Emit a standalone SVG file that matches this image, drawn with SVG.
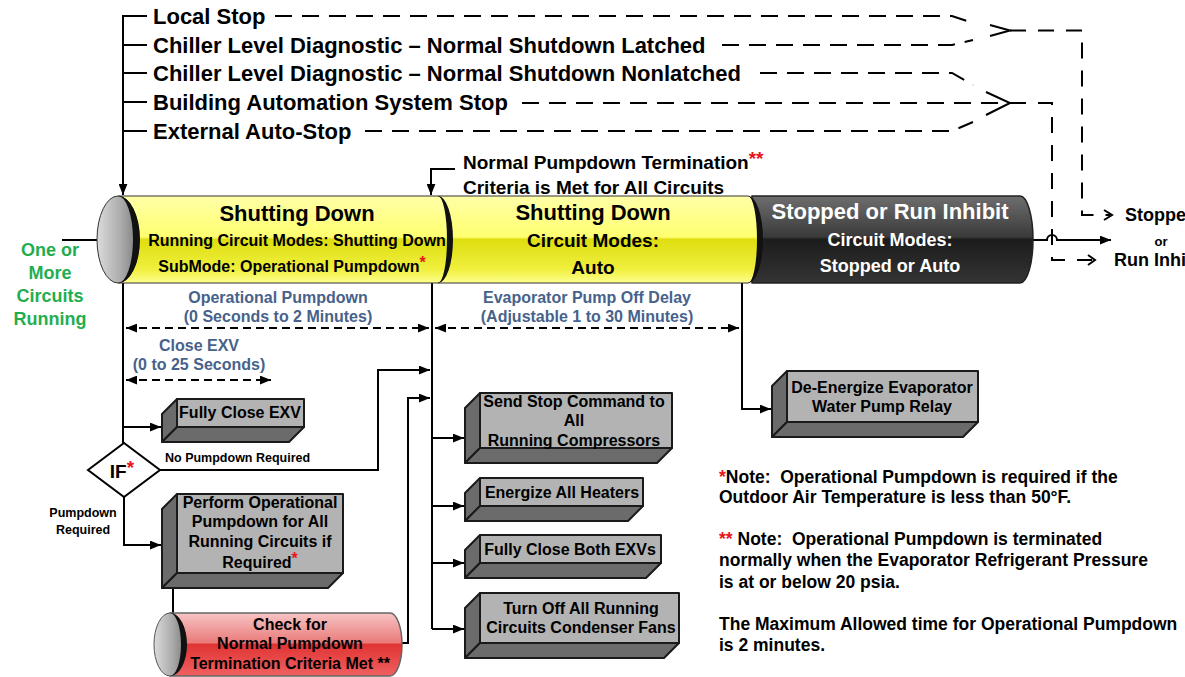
<svg xmlns="http://www.w3.org/2000/svg" width="1185" height="677" viewBox="0 0 1185 677">
<defs>
<linearGradient id="gYellow" x1="0" y1="0" x2="0" y2="1">
<stop offset="0" stop-color="#ffffa8"/>
<stop offset="0.47" stop-color="#ffff70"/>
<stop offset="0.5" stop-color="#dede10"/>
<stop offset="0.85" stop-color="#f0f040"/>
<stop offset="1" stop-color="#ffff90"/>
</linearGradient>
<linearGradient id="gDark" x1="0" y1="0" x2="0" y2="1">
<stop offset="0" stop-color="#6e6e6e"/>
<stop offset="0.47" stop-color="#3a3a3a"/>
<stop offset="0.5" stop-color="#1c1c1c"/>
<stop offset="1" stop-color="#343434"/>
</linearGradient>
<linearGradient id="gRed" x1="0" y1="0" x2="0" y2="1">
<stop offset="0" stop-color="#f7c4c4"/>
<stop offset="0.47" stop-color="#ea7a7a"/>
<stop offset="0.5" stop-color="#e03434"/>
<stop offset="1" stop-color="#f06060"/>
</linearGradient>
<linearGradient id="gFace" x1="0" y1="0" x2="1" y2="0">
<stop offset="0" stop-color="#dcdcdc"/>
<stop offset="0.6" stop-color="#a8a8a8"/>
<stop offset="1" stop-color="#7a7a7a"/>
</linearGradient>
<marker id="arr" viewBox="0 0 10 8" refX="10" refY="4" markerWidth="11" markerHeight="9" markerUnits="userSpaceOnUse" orient="auto-start-reverse">
<path d="M0,0 L10,4 L0,8 z" fill="#000"/>
</marker>
</defs>
<style>
text { font-family: "Liberation Sans", Arial, sans-serif; font-weight: bold; dominant-baseline: central; fill: #000; }
.c { text-anchor: middle; }
.f22 { font-size: 22px; }
.f19 { font-size: 19px; }
.f18 { font-size: 18px; }
.f175 { font-size: 17.5px; }
.f17 { font-size: 17px; }
.f16 { font-size: 16px; }
.f13 { font-size: 12.5px; }
.red { fill: #e8141c; }
.blue { fill: #47628a; }
.green { fill: #1fae4f; }
.white { fill: #ffffff; }
.ln { fill: none; stroke: #000; stroke-width: 2; }
.arrow { marker-end: url(#arr); }
.dash { fill: none; stroke: #000; stroke-width: 2; stroke-dasharray: 17 10; }
.dd { fill: none; stroke: #000; stroke-width: 2; stroke-dasharray: 8 5; marker-start: url(#arr); marker-end: url(#arr); }
.vd { fill: none; stroke: #000; stroke-width: 2; stroke-dasharray: 16 12; }
.front { fill: #b3b3b3; stroke: #1a1a1a; stroke-width: 2; stroke-linejoin: round; }
.side { fill: #6b6b6b; stroke: #1a1a1a; stroke-width: 2; stroke-linejoin: round; }
.edge { fill: #111; }
</style>

<rect x="0" y="0" width="1185" height="677" fill="#ffffff"/>

<g id="connectors">
  <path class="ln arrow" d="M147 16 H123 V195"/>
  <path class="ln" d="M123 45 H147 M123 73 H147 M123 102 H147 M123 131 H147"/>
  <path class="dash" d="M275 16 H952 L973 23"/>
  <path class="dash" d="M722 45 H952 L973 40"/>
  <path class="ln" d="M990 25 L1010 30.5 L990 36"/>
  <path class="vd" d="M1010 30.5 H1082 V215 H1110"/>
  <path class="ln" d="M1104 210 L1112 215 L1104 220"/>
  <path class="dash" d="M760 73 H952 L973 85"/>
  <path class="dash" d="M522 103 H1010"/>
  <path class="dash" d="M365 131 H952 L973 122"/>
  <path class="ln" d="M986 92 L1010 103 L986 115"/>
  <path class="vd" d="M1010 103 H1052 V260 H1092"/>
  <path class="ln" d="M1088 255 L1095 260 L1088 265"/>
  <path class="ln arrow" d="M1033 240 H1047 A5 5 0 0 1 1057 240 H1111"/>
  <path class="ln arrow" d="M455 169 H431 V195"/>
  <path class="ln arrow" d="M62 240 H116"/>
  <path class="dd" d="M126 328 H429"/>
  <path class="dd" d="M435 328 H739"/>
  <path class="dd" d="M126 380 H271"/>
  <path class="ln" d="M123 283 V443"/>
  <path class="ln arrow" d="M123 427 H161"/>
  <path class="ln arrow" d="M160 470 H378 V370 H430"/>
  <path class="ln arrow" d="M124 497 V545 H161"/>
  <path class="ln" d="M173 588 V613"/>
  <path class="ln arrow" d="M402 643 H408 V398 H430"/>
  <path class="ln" d="M432 283 V629"/>
  <path class="ln arrow" d="M432 438 H464"/>
  <path class="ln arrow" d="M432 506 H464"/>
  <path class="ln arrow" d="M432 563 H464"/>
  <path class="ln arrow" d="M432 629 H464"/>
  <path class="ln arrow" d="M742 283 V409 H771"/>
</g>

<g id="source-labels">
  <text class="f22" x="153" y="16">Local Stop</text>
  <text class="f22" x="153" y="45" xml:space="preserve">Chiller Level Diagnostic – Normal Shutdown Latched</text>
  <text class="f22" x="153" y="73">Chiller Level Diagnostic – Normal Shutdown Nonlatched</text>
  <text class="f22" x="153" y="102">Building Automation System Stop</text>
  <text class="f22" x="153" y="131">External Auto-Stop</text>
</g>

<g id="termination-label">
  <text class="f19" x="463" y="162">Normal Pumpdown Termination<tspan class="red" dy="-4">**</tspan></text>
  <text class="f19" x="463" y="187">Criteria is Met for All Circuits</text>
</g>

<g id="stopped-cylinder">
  <path d="M752 196 H1020 A13 43.5 0 0 1 1020 283 H752 Z" fill="url(#gDark)" stroke="#222" stroke-width="1.5"/>
  <text class="f22 c white" x="890" y="211">Stopped or Run Inhibit</text>
  <text class="f18 c white" x="890" y="240">Circuit Modes:</text>
  <text class="f18 c white" x="890" y="266">Stopped or Auto</text>
</g>

<g id="shutting-down-auto">
  <path d="M438 196 H748 A11 43.5 0 0 1 748 283 H438 Z" fill="url(#gYellow)" stroke="#333" stroke-width="1"/>
  <path class="edge" d="M748 196 A15 43.5 0 0 1 748 283 A9 43.5 0 0 0 748 196 Z"/>
  <text class="f22 c" x="593" y="212">Shutting Down</text>
  <text class="f19 c" x="593" y="240">Circuit Modes:</text>
  <text class="f19 c" x="593" y="267">Auto</text>
</g>

<g id="shutting-down-pumpdown">
  <path d="M118 196 H438 A11 43.5 0 0 1 438 283 H118 Z" fill="url(#gYellow)" stroke="#333" stroke-width="1"/>
  <path class="edge" d="M438 196 A15 43.5 0 0 1 438 283 A9 43.5 0 0 0 438 196 Z"/>
  <ellipse cx="118" cy="239.5" rx="21" ry="43.5" fill="url(#gFace)" stroke="#333" stroke-width="1"/>
  <path class="edge" d="M118 196 A22 43.5 0 0 1 118 283 A15 43.5 0 0 0 118 196 Z"/>
  <text class="f22 c" x="297" y="213">Shutting Down</text>
  <text class="f16 c" x="297" y="240">Running Circuit Modes: Shutting Down</text>
  <text class="f16 c" x="292" y="266">SubMode: Operational Pumpdown<tspan class="red" dy="-4">*</tspan></text>
</g>

<g id="start-label">
  <text class="f18 c green" x="50" y="250">One or</text>
  <text class="f18 c green" x="50" y="273">More</text>
  <text class="f18 c green" x="50" y="296">Circuits</text>
  <text class="f18 c green" x="50" y="319">Running</text>
</g>

<g id="output-label">
  <text class="f18 c" x="1161" y="215">Stopped</text>
  <text class="c" style="font-size:13px" x="1161" y="241">or</text>
  <text class="f18 c" x="1161" y="260">Run Inhibit</text>
</g>

<g id="timing-labels">
  <text class="f16 c blue" x="278" y="297">Operational Pumpdown</text>
  <text class="f16 c blue" x="278" y="316">(0 Seconds to 2 Minutes)</text>
  <text class="f16 c blue" x="587" y="297">Evaporator Pump Off Delay</text>
  <text class="f16 c blue" x="587" y="316">(Adjustable 1 to 30 Minutes)</text>
  <text class="f16 c blue" x="199" y="345">Close EXV</text>
  <text class="f16 c blue" x="199" y="364">(0 to 25 Seconds)</text>
</g>

<g id="fully-close-exv">
  <polygon class="side" points="177,399 162,414 162,442 177,427"/>
  <polygon class="side" points="177,427 304,427 289,442 162,442"/>
  <rect class="front" x="177" y="399" width="127" height="28"/>
  <text class="f16 c" x="240" y="412">Fully Close EXV</text>
</g>

<g id="if-decision">
  <polygon points="88,470 124,443 160,470 124,497" fill="#fff" stroke="#000" stroke-width="2"/>
  <text class="f19 c" x="122" y="471">IF<tspan class="red" dy="-4">*</tspan></text>
  <text class="f13" x="165" y="458">No Pumpdown Required</text>
  <text class="f13 c" x="83" y="513">Pumpdown</text>
  <text class="f13 c" x="83" y="530">Required</text>
</g>

<g id="perform-pumpdown">
  <polygon class="side" points="177,494 162,509 162,588 177,573"/>
  <polygon class="side" points="177,573 343,573 328,588 162,588"/>
  <rect class="front" x="177" y="494" width="166" height="79"/>
  <text class="f16 c" x="260" y="502">Perform Operational</text>
  <text class="f16 c" x="260" y="521">Pumpdown for All</text>
  <text class="f16 c" x="260" y="541">Running Circuits if</text>
  <text class="f16 c" x="260" y="562">Required<tspan class="red" dy="-4">*</tspan></text>
</g>

<g id="check-termination">
  <path d="M170 613 H390 A12 31.5 0 0 1 390 676 H170 Z" fill="url(#gRed)" stroke="#666" stroke-width="1.5"/>
  <ellipse cx="170" cy="644.5" rx="16" ry="31.5" fill="url(#gFace)" stroke="#555" stroke-width="1"/>
  <path class="edge" d="M170 613 A17 31.5 0 0 1 170 676 A11 31.5 0 0 0 170 613 Z"/>
  <text class="f16 c" x="290" y="624">Check for</text>
  <text class="f16 c" x="290" y="643">Normal Pumpdown</text>
  <text class="f16 c" x="290" y="663">Termination Criteria Met **</text>
</g>

<g id="send-stop">
  <polygon class="side" points="480,393 465,408 465,463 480,448"/>
  <polygon class="side" points="480,448 672,448 657,463 465,463"/>
  <rect class="front" x="480" y="393" width="192" height="55"/>
  <text class="f16 c" x="574" y="401">Send Stop Command to</text>
  <text class="f16 c" x="574" y="420">All</text>
  <text class="f16 c" x="574" y="440">Running Compressors</text>
</g>

<g id="energize-heaters">
  <polygon class="side" points="480,478 465,493 465,521 480,506"/>
  <polygon class="side" points="480,506 643,506 628,521 465,521"/>
  <rect class="front" x="480" y="478" width="163" height="28"/>
  <text class="f16 c" x="562" y="492">Energize All Heaters</text>
</g>

<g id="close-both-exvs">
  <polygon class="side" points="480,535 465,550 465,578 480,563"/>
  <polygon class="side" points="480,563 661,563 646,578 465,578"/>
  <rect class="front" x="480" y="535" width="181" height="28"/>
  <text class="f16 c" x="570" y="549">Fully Close Both EXVs</text>
</g>

<g id="condenser-fans">
  <polygon class="side" points="480,593 465,608 465,658 480,643"/>
  <polygon class="side" points="480,643 679,643 664,658 465,658"/>
  <rect class="front" x="480" y="593" width="199" height="50"/>
  <text class="f16 c" x="581" y="608">Turn Off All Running</text>
  <text class="f16 c" x="581" y="627">Circuits Condenser Fans</text>
</g>

<g id="evap-pump-relay">
  <polygon class="side" points="787,371 772,386 772,437 787,422"/>
  <polygon class="side" points="787,422 978,422 963,437 772,437"/>
  <rect class="front" x="787" y="371" width="191" height="51"/>
  <text class="f16 c" x="882" y="387">De-Energize Evaporator</text>
  <text class="f16 c" x="882" y="406">Water Pump Relay</text>
</g>

<g id="notes">
  <text class="f175" x="719" y="477" xml:space="preserve"><tspan class="red">*</tspan>Note:  Operational Pumpdown is required if the</text>
  <text class="f175" x="719" y="497">Outdoor Air Temperature is less than 50°F.</text>
  <text class="f175" x="719" y="539" xml:space="preserve"><tspan class="red">**</tspan> Note:  Operational Pumpdown is terminated</text>
  <text class="f175" x="719" y="560">normally when the Evaporator Refrigerant Pressure</text>
  <text class="f175" x="719" y="582">is at or below 20 psia.</text>
  <text class="f175" x="719" y="624">The Maximum Allowed time for Operational Pumpdown</text>
  <text class="f175" x="719" y="645">is 2 minutes.</text>
</g>
</svg>
